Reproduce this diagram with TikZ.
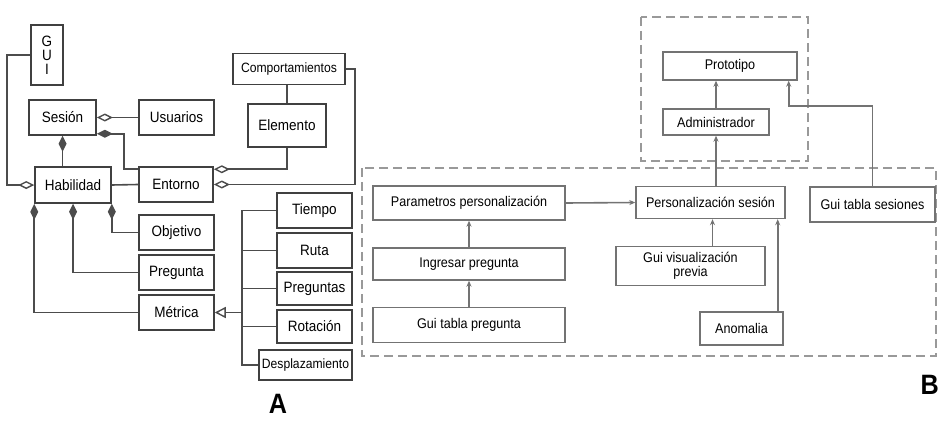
\documentclass[tikz,border=0pt]{standalone}
\usepackage{fontspec}
\setmainfont{Liberation Sans}[FakeStretch=0.9]
\usetikzlibrary{arrows.meta,calc}
\begin{document}
\begin{tikzpicture}[x=1pt,y=-1pt,
  abox/.style={draw=black!75, line width=1.5pt, fill=white, inner sep=0pt, font=\fontsize{15}{16}\selectfont},
  asmall/.style={abox, font=\fontsize{13.5}{14}\selectfont},
  bbox/.style={draw=black!55, line width=1.4pt, fill=white, inner sep=0pt, font=\fontsize{14}{13}\selectfont},
  aline/.style={draw=black!70, line width=1.6pt},
  bline/.style={draw=black!55, line width=1.6pt, -{Stealth[length=6pt,width=5pt]}},
  region/.style={draw=black!40, line width=1.2pt, dash pattern=on 9pt off 5pt},
  odia/.style={-{Diamond[open, length=16pt, width=8pt, line width=1.4pt]}},
  fdia/.style={-{Diamond[length=16pt, width=8pt]}},
  fdias/.style={{Diamond[length=16pt, width=8pt]}-},
  otri/.style={-{Triangle[open, length=11pt, width=11pt, line width=1.4pt]}},
  biglabel/.style={font=\bfseries\fontsize{28}{28}\selectfont, inner sep=0pt}
]
\useasboundingbox (0,0) rectangle (940,436);

% dashed regions
\draw[region] (641,17) rectangle (808,161);
\draw[region] (362,168) rectangle (936,356);

% ---------- Part A ----------
\node[abox, minimum width=32pt, minimum height=60pt, align=center, font=\fontsize{15}{14}\selectfont] (gui) at (47,55) {G\\U\\I};
\node[abox, minimum width=67pt, minimum height=35pt] (ses) at (62.5,117.5) {Sesión};
\node[abox, minimum width=75pt, minimum height=35pt] (usu) at (176.5,117.5) {Usuarios};
\node[abox, minimum width=76pt, minimum height=36pt] (hab) at (73,185) {Habilidad};
\node[abox, minimum width=74pt, minimum height=35pt] (ent) at (176,184.5) {Entorno};
\node[asmall, minimum width=112pt, minimum height=31pt] (com) at (289,69) {Comportamientos};
\node[abox, minimum width=78pt, minimum height=43pt] (ele) at (287,125.5) {Elemento};
\node[abox, minimum width=75pt, minimum height=35pt] (obj) at (176.5,232.5) {Objetivo};
\node[abox, minimum width=75pt, minimum height=35pt] (pre) at (176.5,272.5) {Pregunta};
\node[abox, minimum width=75pt, minimum height=35pt] (met) at (176.5,312.5) {Métrica};
\node[abox, minimum width=75pt, minimum height=35pt] (tie) at (314.5,210.5) {Tiempo};
\node[abox, minimum width=75pt, minimum height=35pt] (rut) at (314.5,250.5) {Ruta};
\node[abox, minimum width=75pt, minimum height=33pt] (prs) at (314.5,288.5) {Preguntas};
\node[abox, minimum width=75pt, minimum height=33pt] (rot) at (314.5,326.5) {Rotación};
\node[asmall, minimum width=93pt, minimum height=30pt] (des) at (305.5,365) {Desplazamiento};
\node[biglabel] (la) at (278,404) {A};

\coordinate (bus) at (242,312.5);
\coordinate (sesc) at ($(ses.south east)+(0,-2)$);
\coordinate (entc) at ($(ent.north west)+(0,3)$);
\coordinate (entd) at ($(ent.north east)+(0,3)$);

% connectors A
\draw[aline, odia] (gui.west) -- ++(-23,0) |- (hab.west);
\draw[aline, odia] (usu.west) -- (ses.east);
\draw[aline, fdia] (ses.south |- hab.north) -- (ses.south);
\draw[aline, fdias] (sesc) -- ++(27,0) |- (entc);
\draw[aline, odia] (ele.south) |- (entd);
\draw[aline, odia] (com.east) -- ++(9,0) |- (ent.east);
\draw[aline] (ele.north |- com.south) -- (ele.north);
\draw[aline] (hab.east) -- (ent.west);
\draw[aline, fdia] (met.west) -| (hab.south west);
\draw[aline, fdia] (pre.west) -| (hab.south);
\draw[aline, fdia] (obj.west) -| (hab.south east);
\draw[aline] (tie.west) -- (tie.west -| bus) -- (des.west -| bus) -- (des.west);
\draw[aline] (rut.west) -- (rut.west -| bus);
\draw[aline] (prs.west) -- (prs.west -| bus);
\draw[aline] (rot.west) -- (rot.west -| bus);
\draw[aline, otri] (bus) -- (met.east);

% ---------- Part B ----------
\node[bbox, minimum width=134pt, minimum height=28pt] (pro) at (730,66) {Prototipo};
\node[bbox, minimum width=106pt, minimum height=26pt] (adm) at (716,122) {Administrador};
\node[bbox, minimum width=192pt, minimum height=34pt] (par) at (469,203) {Parametros personalización};
\node[bbox, minimum width=192pt, minimum height=32pt] (ing) at (469,264) {Ingresar pregunta};
\node[bbox, minimum width=192pt, minimum height=35pt] (gtp) at (469,325) {Gui tabla pregunta};
\node[bbox, minimum width=149pt, minimum height=32pt] (ps) at (710.5,202.5) {Personalización sesión};
\node[bbox, minimum width=125pt, minimum height=35pt] (gts) at (872.5,204.5) {Gui tabla sesiones};
\node[bbox, minimum width=149pt, minimum height=39pt, align=center, font=\fontsize{14}{13.5}\selectfont] (gvp) at (690.5,266) {Gui visualización\\previa};
\node[bbox, minimum width=83pt, minimum height=33pt] (ano) at (741.5,328.5) {Anomalia};
\node[biglabel, anchor=east] (lb) at (939,385) {B};

\coordinate (psa) at ($(ps.south)+(2,0)$);
\coordinate (psb) at ($(ps.south east)+(-8,0)$);
\coordinate (prc) at ($(pro.south east)+(-9,0)$);
\coordinate (prd) at ($(pro.south east)+(-9,25)$);

% connectors B
\draw[bline] (adm.north) -- (adm.north |- pro.south);
\draw[bline] (adm.south |- ps.north) -- (adm.south);
\draw[bline] (gts.north) |- (prd) -- (prc);
\draw[bline] (par.east) -- (ps.west);
\draw[bline] (ing.north) -- (par.south);
\draw[bline] (gtp.north) -- (ing.south);
\draw[bline] (psa |- gvp.north) -- (psa);
\draw[bline] (psb |- ano.north) -- (psb);
\end{tikzpicture}
\end{document}
